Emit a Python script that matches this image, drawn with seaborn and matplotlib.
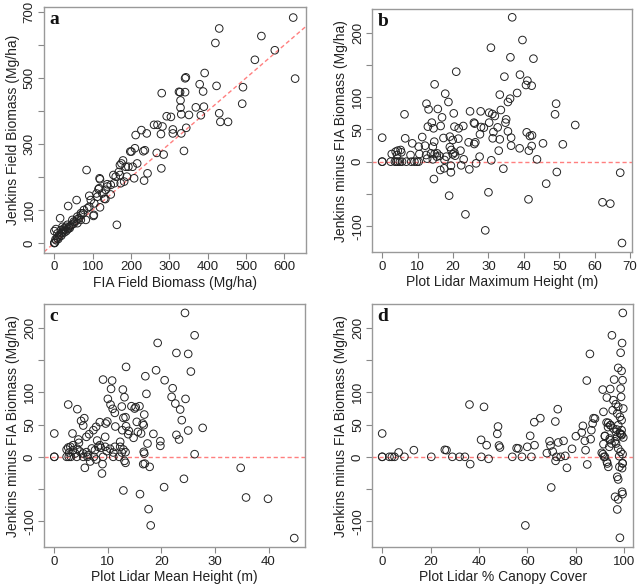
import numpy as np
import pandas as pd
import matplotlib
matplotlib.use('Agg')
import matplotlib.pyplot as plt
import seaborn as sns

# Panel a: FIA vs Jenkins field biomass (Mg/ha)
fia_a = [623, 430, 540, 420, 575, 523, 628, 392, 343, 341, 379, 423, 492, 325, 328, 341,
         388, 329, 329, 369, 390, 490, 331, 351, 382, 430, 433, 453, 331, 344, 338, 280,
         293, 304, 309, 309,
         0, 0, 1, 3, 8, 17, 12, 21, 25, 30, 34, 15, 36, 47, 51, 60, 60, 69, 69, 77, 86, 58,
         82, 102, 91, 95, 104, 112, 119, 130, 125, 117, 134, 119, 138, 147, 156, 163, 160,
         171, 173, 182, 186, 175, 84, 204, 208, 201, 210, 212, 227, 241, 236, 234, 243, 267,
         278, 260, 269, 279, 282,
         198, 193, 179, 171, 216, 189, 168, 154, 118, 138, 115, 110, 133, 91, 147, 103, 0, 4,
         285, 232,
         5, 7, 10, 13, 18, 20, 22, 26, 28, 31, 35, 38, 40, 42, 45, 50, 55, 60, 65, 70, 75]
jenkins_a = [683, 650, 627, 606, 584, 555, 498, 515, 502, 499, 481, 476, 472, 458, 457, 457,
             459, 432, 410, 411, 413, 422, 390, 388, 387, 393, 367, 367, 332, 349, 279, 454,
             384, 382, 344, 332,
             0, 0, 1, 11, 29, 39, 24, 49, 44, 49, 55, 75, 112, 70, 65, 80, 60, 90, 70, 100, 105,
             130, 70, 82, 110, 130, 120, 140, 108, 134, 150, 166, 161, 193, 171, 176, 181, 55,
             201, 206, 181, 186, 231, 241, 221, 231, 196, 277, 287, 327, 342, 332, 281, 189,
             211, 273, 330, 358, 358, 226, 353,
             277, 231, 250, 236, 241, 201, 215, 206, 196, 178, 163, 150, 133, 143, 147, 85, 36,
             42, 268, 278,
             8, 15, 12, 20, 22, 30, 35, 32, 40, 36, 42, 48, 45, 52, 55, 58, 65, 72, 75, 85, 90]

# Panel b: plot lidar maximum height (m) vs Jenkins minus FIA (Mg/ha)
maxh_b = [36.7, 39.6, 30.7, 36.2, 42.7, 20.9, 34.5, 38.9, 41.0, 40.6, 42.2, 14.8, 17.8, 38.1,
          33.2, 36.1, 35.5, 18.7, 12.5, 49.1, 48.8, 6.3, 13.1, 15.7, 24.8, 27.8, 30.2, 31.1,
          31.8, 20.2, 16.9, 33.5, 35.0, 34.8, 30.2, 54.5, 14.0, 12.9, 16.5, 20.4, 21.6, 22.9,
          14.5, 27.9, 25.9, 26.1, 32.6, 31.4, 35.5, 40.8, 41.7, 42.3, 36.4, 33.2, 31.2, 27.6,
          28.7, 21.5, 19.9, 19.1, 17.3, 11.3, 6.5, 0.0, 8.5, 10.3, 12.1, 14.7, 14.3, 22.1,
          24.4, 26.0, 26.3, 32.9, 36.4, 38.8, 41.4, 42.2, 45.4, 51.0, 43.7, 30.8, 27.5, 26.5,
          23.0, 22.3, 24.6, 19.4, 17.5, 16.4, 19.4, 34.2, 49.3, 67.2, 14.6, 46.3, 30.0, 18.9,
          41.3, 62.2, 64.4, 23.5, 29.1, 67.7,
          0.0, 0.0, 2.4, 3.6, 4.0, 4.4, 5.0, 5.6, 6.8, 8.2, 9.1, 9.8, 10.3,
          2.7, 3.8, 4.4, 5.2, 5.4, 4.2, 8.0, 10.5, 12.4, 13.8, 14.8, 15.4, 16.2, 14.3, 12.7,
          17.6, 19.9, 20.4, 20.6, 19.1, 19.5, 18.1, 15.5]
diff_b = [223.8, 188.6, 176.7, 161.8, 159.7, 139.5, 131.8, 134.9, 125.6, 118.9, 117.8, 119.9,
          105.4, 106.5, 103.9, 97.7, 92.5, 92.5, 89.9, 89.9, 73.4, 73.4, 81.1, 81.7, 78.0,
          78.0, 76.0, 73.9, 70.8, 74.9, 68.7, 80.1, 65.6, 60.5, 60.5, 56.8, 60.5, 54.3, 55.3,
          54.3, 51.7, 55.3, 51.7, 53.7, 60.5, 59.0, 53.2, 46.0, 47.0, 45.5, 39.8, 40.8, 37.2,
          34.6, 36.2, 42.4, 52.7, 35.7, 33.6, 38.8, 36.7, 38.2, 36.2, 37.2, 28.4, 23.3, 24.8,
          31.0, 23.3, 17.1, 30.0, 27.4, 30.0, 17.1, 24.8, 20.7, 17.1, 24.3, 28.4, 26.9, 3.6,
          2.1, 7.8, -2.6, 3.6, -5.7, -11.9, -6.2, -10.3, -12.9, -16.5, -10.9, -16.0, -17.1,
          -26.9, -34.1, -47.5, -52.7, -58.4, -63.0, -65.1, -81.7, -106.5, -126.1,
          0, 0, 0, 0, 0, 0, 0, 0, 0, 0, 0, 0, 0,
          11.9, 15.5, 17.1, 18.1, 14.5, 10.3, 10.3, 11.9, 10.3, 12.9, 11.9, 7.8, 9.0, 3.6, 4.7,
          2.6, 11.4, 14.0, 9.3, 22.7, 18.1, 7.8, 12.9]

# Panel c: plot lidar mean height (m) vs Jenkins minus FIA (Mg/ha)
meanh_c = [24.4, 26.2, 19.3, 22.8, 25.0, 13.4, 19.0, 25.5, 9.1, 10.8, 20.6, 17.0, 10.6, 12.8,
           22.1, 17.2, 13.1, 10.0, 21.9, 24.5, 10.5, 22.6, 2.6, 4.3, 10.9, 12.6, 14.4, 15.0,
           15.2, 15.9, 23.5, 11.3, 16.8, 23.8, 5.6, 5.0, 5.4, 8.5, 9.9, 9.6, 12.9, 13.3, 13.4,
           11.4, 15.4, 16.5, 16.7, 15.6, 16.2, 13.9, 13.8, 12.7, 14.8, 27.7, 25.0, 22.8, 23.3,
           18.5, 19.8, 19.8, 17.4, 3.4, 0.0, 3.5, 4.5, 4.6, 6.0, 6.5, 7.3, 7.8, 9.5, 8.0, 8.5,
           8.7, 9.5, 9.8, 10.4, 12.3, 12.3, 12.6, 12.9, 13.3, 13.3, 13.1, 26.2, 16.7, 16.8,
           16.6, 16.9, 17.8, 9.0, 8.9, 5.7, 6.7, 7.8, 34.8, 24.2, 20.5, 12.9, 16.0, 35.8, 39.9,
           17.6, 18.0, 44.8,
           0.0, 0.0, 2.3, 2.7, 3.1, 4.2, 5.4, 6.2, 7.4, 9.1, 11.0, 12.1,
           2.3, 2.6, 3.0, 3.5, 2.8, 3.9, 4.3, 4.8, 5.4, 6.0, 7.0, 7.6, 6.3, 8.2, 11.0, 11.3]
diff_c = [222.6, 188.0, 176.2, 160.7, 159.2, 139.1, 133.9, 131.9, 119.5, 118.0, 118.5, 124.7,
          105.1, 104.1, 106.1, 97.4, 92.2, 89.6, 92.7, 89.6, 80.9, 82.4, 80.9, 73.7, 74.2,
          77.8, 78.3, 74.7, 76.8, 78.3, 73.2, 68.0, 65.4, 56.7, 59.8, 55.6, 48.4, 53.6, 54.6,
          51.5, 60.3, 61.3, 47.4, 46.9, 54.1, 51.5, 48.9, 38.6, 36.1, 40.2, 35.0, 41.2, 29.4,
          44.8, 40.7, 34.0, 26.8, 35.5, 24.2, 17.0, 20.6, 36.1, 36.1, 18.0, 26.8, 21.6, 30.9,
          35.0, 41.2, 46.4, 30.9, 25.2, 18.0, 13.9, 15.5, 8.8, 12.4, 23.2, 15.5, 6.7, 11.3,
          7.2, -9.3, -6.2, 4.1, 7.7, 5.0, -11.3, -10.5, -15.5, -11.3, -25.8, -17.0, -7.2,
          -4.1, -17.0, -34.0, -46.9, -52.0, -57.7, -62.9, -64.9, -80.9, -106.1, -125.7,
          0, 0, 0, 0, 0, 0, 0, 0, 0, 0, 0, 0,
          11.3, 14.4, 15.5, 10.3, 6.7, 5.2, 12.4, 8.2, 5.2, 7.2, 12.9, 10.3, 2.6, 15.5, 6.7,
          15.5]

# Panel d: plot lidar % canopy cover vs Jenkins minus FIA (Mg/ha)
cover_d = [85.9, 84.6, 36.1, 42.1, 72.6, 65.4, 87.4, 88.0, 87.0, 62.9, 71.6, 47.9, 83.0, 86.5,
           47.6, 61.2, 80.1, 82.5, 86.2, 40.9, 43.2, 48.3, 48.7, 63.0, 60.0, 69.2, 69.6, 70.5,
           72.8, 75.0, 78.5, 83.8, 84.1, 84.8, 76.4, 71.7, 72.1, 75.7, 68.1, 73.8,
           0.0, 0.0, 0.0, 3.0, 4.0, 5.1, 6.8, 9.2, 13.1, 20.3, 25.9, 26.6, 29.0, 32.0, 34.2,
           36.4, 41.0, 44.0, 53.8, 55.6, 56.3, 57.8, 61.7, 69.9, 59.2,
           99.5, 95.0, 99.2, 98.6, 97.6, 99.0, 99.4, 95.9, 98.6, 98.8, 91.2, 94.3, 92.9, 95.6,
           96.6, 97.6, 95.3, 97.2, 98.3, 99.0, 99.7, 91.5, 93.5, 94.5, 97.6, 99.0, 98.3, 96.6,
           97.2, 99.0, 99.7, 94.2, 92.1, 91.5, 90.8, 92.1, 92.9, 93.9, 96.7, 97.6, 98.6, 99.4,
           98.0, 99.4, 98.1, 97.2, 97.6, 96.3, 97.6, 99.2, 99.4, 97.2, 98.3,
           92.8, 94.3, 93.4, 95.6, 97.0, 98.3, 92.1, 94.1, 98.9, 91.3, 91.7, 94.8, 96.2, 93.1,
           93.5, 99.2, 99.4]
diff_d = [159.2, 118.0, 80.9, 77.3, 73.7, 59.8, 59.8, 59.2, 51.5, 53.6, 54.6, 46.9, 47.9, 41.2,
          35.5, 32.5, 31.9, 37.6, 27.3, 26.3, 18.0, 17.5, 14.4, 18.0, 15.5, 24.2, 17.5, 8.2,
          22.2, 24.7, 12.4, 24.7, 10.3, -11.8, -17.0, -6.2, 0.0, 1.5, 5.7, 0.0,
          36.1, 0.0, 0.0, 0.0, 0.0, 0.0, 6.7, 0.0, 10.3, 0.0, 10.8, 10.3, 0.0, 0.0, 0.0, -11.3,
          0.0, -3.1, 0.0, 13.4, 12.9, 0.0, 0.0, -47.4, -106.1,
          222.6, 188.0, 176.0, 161.0, 137.6, 132.9, 118.5, 119.5, 105.6, 92.7, 104.0, 105.0,
          91.7, 87.6, 81.4, 77.3, 72.1, 67.0, 61.8, 56.7, 74.7, 69.6, 52.5, 48.9, 48.9, 41.2,
          36.1, 38.6, 30.9, 33.5, 29.9, 25.8, 31.9, 19.6, 6.2, 0.0, -7.7, 15.5, 20.6, 12.9,
          7.7, 4.1, 1.0, -10.3, -15.5, -30.9, -35.0, -61.8, -65.9, -54.1, -57.7, -81.4, -125.2,
          53.1, 48.9, 45.9, 43.8, 42.2, 36.0, 32.5, 28.3, 35.0, 4.1, 0.0, 20.6, 24.0, -10.3,
          -15.5, -17.5, -9.8]

sns.set_style('ticks')
plt.rcParams['font.family'] = ['Liberation Sans', 'DejaVu Sans']

fig = plt.figure(figsize=(6.38, 5.84), dpi=100)

panels = [
    dict(x=fia_a, y=jenkins_a, rect=[0.069, 0.567, 0.411, 0.421], letter='a',
         xlim=(-27, 657), ylim=(-30, 715),
         xticks=range(0, 700, 100), xlabels=None,
         yticks=range(0, 800, 100), ylabels=['0', '100', '', '300', '', '500', '', '700'],
         xlab='FIA Field Biomass (Mg/ha)', ylab='Jenkins Field Biomass (Mg/ha)', diag=True),
    dict(x=maxh_b, y=diff_b, rect=[0.5835, 0.568, 0.4075, 0.4166], letter='b',
         xlim=(-2.8, 70.6), ylim=(-140.5, 236.7),
         xticks=range(0, 80, 10), xlabels=None,
         yticks=range(-100, 250, 50), ylabels=['-100', '', '0', '50', '100', '', '200'],
         xlab='Plot Lidar Maximum Height (m)', ylab='Jenkins minus FIA Biomass (Mg/ha)',
         diag=False),
    dict(x=meanh_c, y=diff_c, rect=[0.0694, 0.0628, 0.4086, 0.4162], letter='c',
         xlim=(-1.87, 46.8), ylim=(-140, 236),
         xticks=range(0, 50, 10), xlabels=None,
         yticks=range(-100, 250, 50), ylabels=['-100', '', '0', '50', '100', '', '200'],
         xlab='Plot Lidar Mean Height (m)', ylab='Jenkins minus FIA Biomass (Mg/ha)',
         diag=False),
    dict(x=cover_d, y=diff_d, rect=[0.5835, 0.0628, 0.4086, 0.4162], letter='d',
         xlim=(-4.1, 103.7), ylim=(-140, 236),
         xticks=range(0, 120, 20), xlabels=None,
         yticks=range(-100, 250, 50), ylabels=['-100', '', '0', '50', '100', '', '200'],
         xlab='Plot Lidar % Canopy Cover', ylab='Jenkins minus FIA Biomass (Mg/ha)',
         diag=False),
]

for p in panels:
    ax = fig.add_axes(p['rect'])
    df = pd.DataFrame({'x': p['x'], 'y': p['y']})
    if p['diag']:
        ax.axline((0, 0), slope=1, color='#ff7f7f', ls=(0, (3, 2)), lw=1, zorder=1)
    else:
        ax.axhline(0, color='#ff7f7f', ls=(0, (3, 2)), lw=1, zorder=1)
    sns.scatterplot(data=df, x='x', y='y', ax=ax, marker='o', s=30,
                    facecolor='none', edgecolor='#222222', linewidth=0.7, zorder=3)
    ax.set_xlim(*p['xlim'])
    ax.set_ylim(*p['ylim'])
    ax.set_xticks(list(p['xticks']))
    ax.set_yticks(list(p['yticks']))
    ax.set_yticklabels(p['ylabels'], rotation=90, va='center')
    ax.tick_params(axis='both', length=4, width=0.8, color='#888888',
                   labelsize=9.5, labelcolor='#222222', pad=2)
    for s in ax.spines.values():
        s.set_visible(True)
        s.set_color('#999999')
        s.set_linewidth(1.0)
    ax.set_xlabel(p['xlab'], fontsize=10, color='#222222', labelpad=2)
    ax.set_ylabel(p['ylab'], fontsize=10, color='#222222', labelpad=3)
    ax.text(0.02, 0.985, p['letter'], transform=ax.transAxes, ha='left', va='top',
            fontsize=14, fontweight='bold', family='Liberation Serif', color='#111111')

fig.savefig('out.png', dpi=100)
